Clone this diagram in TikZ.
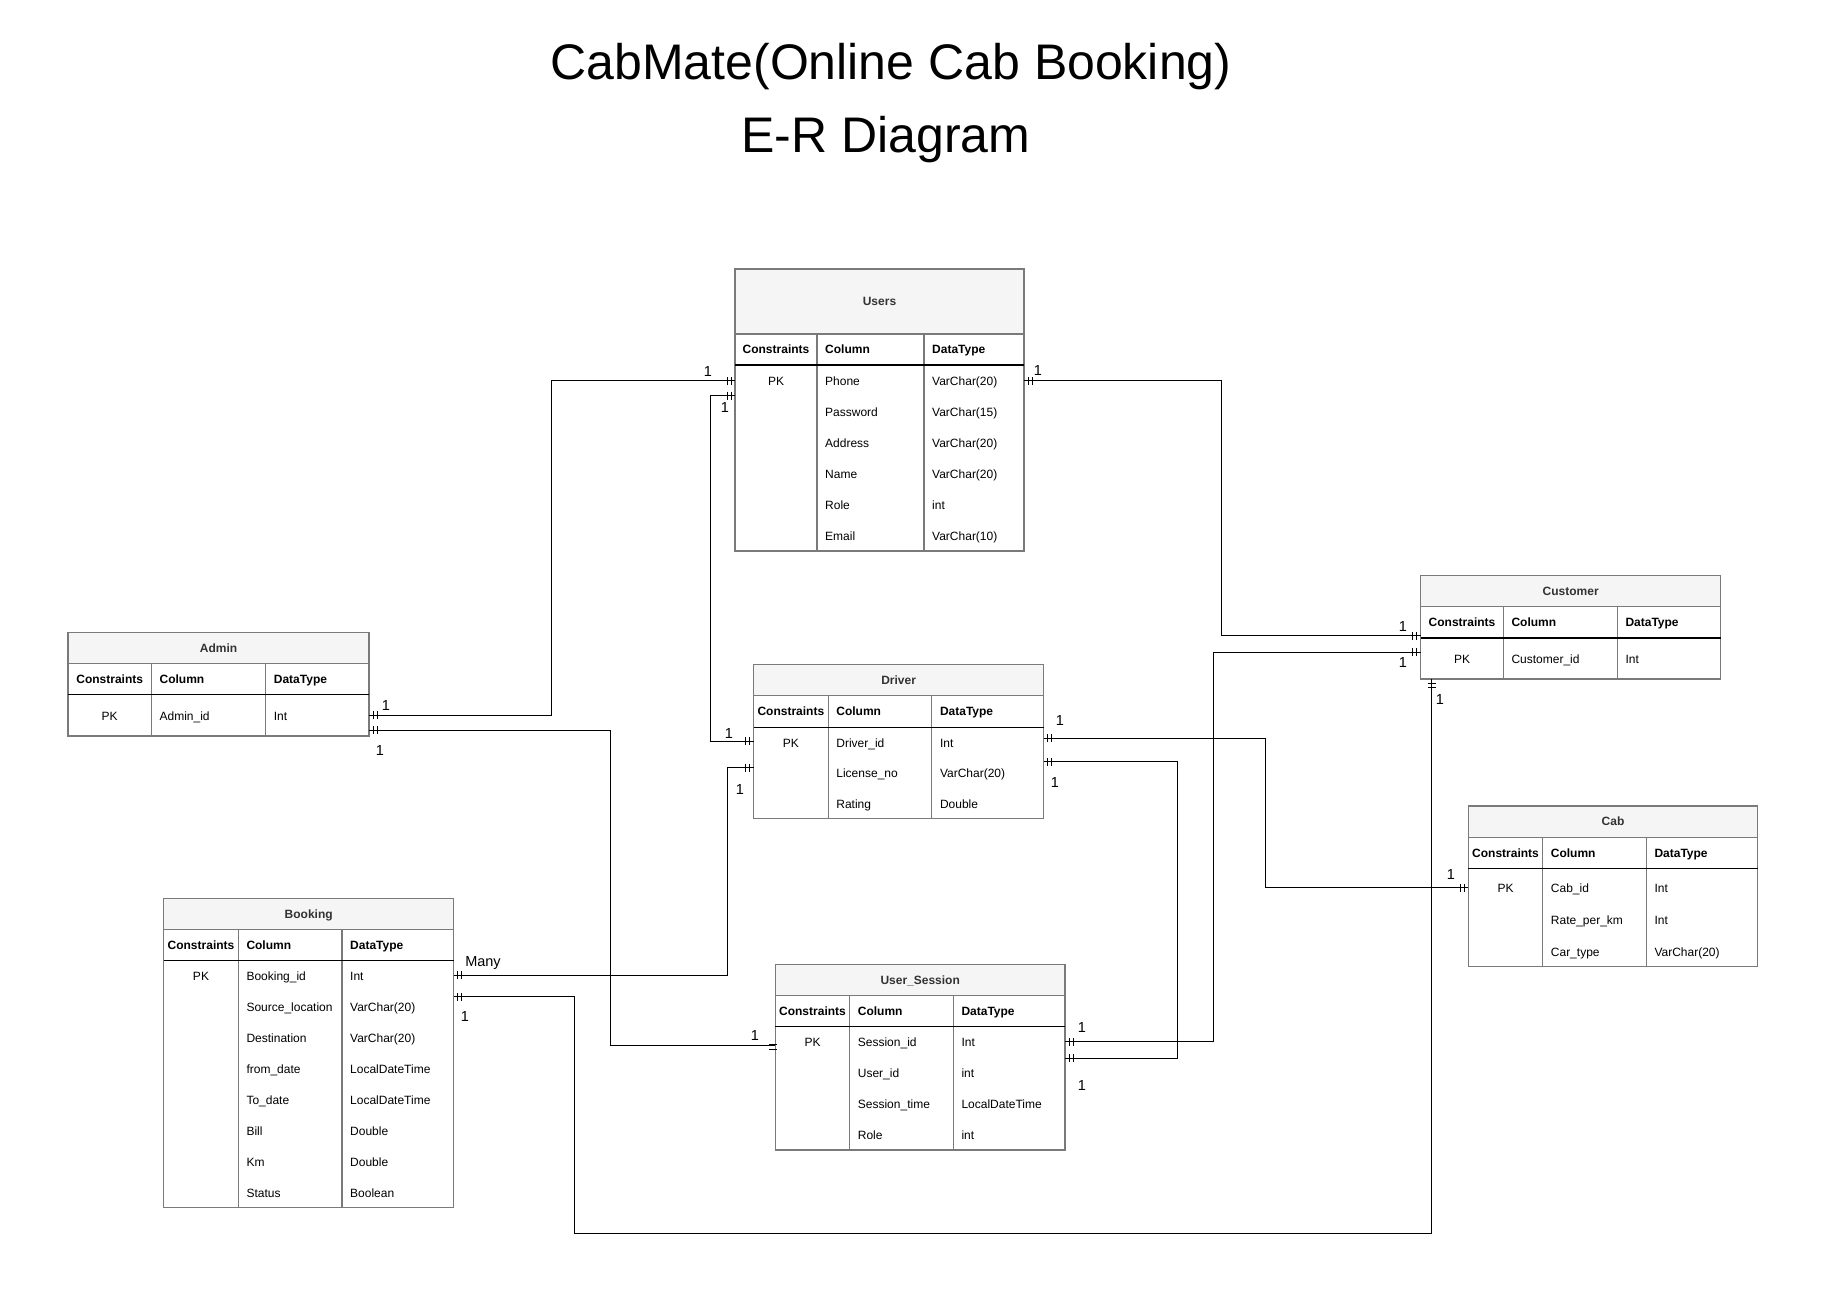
\documentclass[tikz,border=0pt]{standalone}
\usepackage{fontspec}
\setmainfont{Liberation Sans}
\usepackage{tikz}
\usetikzlibrary{calc, decorations.markings}

\definecolor{tblgray}{HTML}{7A7A7A}
\definecolor{titlefill}{HTML}{F5F5F5}
\definecolor{titletext}{HTML}{333333}

\begin{document}
\begin{tikzpicture}[ x=1pt, y=-1pt, tblframe/.style={draw=tblgray, line
      width=1.2pt, inner sep=0pt, outer sep=0pt, anchor=north west},
      tblline/.style={draw=tblgray, line width=1.2pt}, headline/.style={draw=black,
      line width=1.3pt}, tbltitle/.style={font=\bfseries\fontsize{12}{14}\selectfont,
      text=titletext, inner sep=0pt, text height=8.6pt, text depth=0pt},
      hdr/.style={font=\bfseries\fontsize{12}{14}\selectfont, inner sep=0pt, text
      height=8.6pt, text depth=0pt}, cell/.style={font=\fontsize{12}{14}\selectfont,
      inner sep=0pt, text height=8.6pt, text depth=0pt},
      card/.style={font=\fontsize{14.5}{16}\selectfont, inner sep=0pt, text
      height=10.4pt, text depth=0pt}, rel/.style={draw=black, line width=1pt},
      onestart/.style={postaction={decorate, decoration={markings, mark=at position
      4pt with {\draw[rel] (0pt,-4pt) -- (0pt,4pt);}, mark=at position 8pt with
      {\draw[rel] (0pt,-4pt) -- (0pt,4pt);}}}}, oneend/.style={postaction={decorate,
      decoration={markings, mark=at position -4pt with {\draw[rel] (0pt,-4pt) --
      (0pt,4pt);}, mark=at position -8pt with {\draw[rel] (0pt,-4pt) --
      (0pt,4pt);}}}} ]
    \useasboundingbox (0,0) rectangle (1824,1302);

    % Title
    \node[font=\fontsize{50}{60}\selectfont, inner sep=0pt, text height=35.8pt, text
    depth=0pt] (title1) at (891,62) {CabMate(Online Cab Booking)};
    \node[font=\fontsize{50}{60}\selectfont, inner sep=0pt, text height=35.8pt, text
    depth=0pt] (title2) at (886,134.5) {E-R Diagram};

    % Users table
    \fill[titlefill] (735,269) rectangle (1024,334);
    \node[tblframe, minimum width=289pt, minimum height=282pt] (users) at (735,269) {};
    \draw[tblline] (735,334) -- (1024,334) (817,334) -- (817,551) (924,334) -- (924,551);
    \draw[headline] (735,365) -- (1024,365);
    \node[tbltitle] (users-t) at (879.5,301.5) {Users};
    \node[hdr] (users-h1) at (776,349.5) {Constraints}; \node[hdr, anchor=west]
    (users-h2) at (825,349.5) {Column}; \node[hdr, anchor=west] (users-h3) at
    (932,349.5) {DataType}; \node[cell] (users-pk) at (776,380.7) {PK};
    \foreach \c/\t [count=\i from 0] in {Phone/VarChar(20), Password/VarChar(15),
      Address/VarChar(20), Name/VarChar(20), Role/int, Email/VarChar(10)} {
      \node[cell, anchor=west] (users-c\i) at (825,380.7+31*\i) {\c};
      \node[cell, anchor=west] (users-d\i) at (932,380.7+31*\i) {\t}; }

    % Admin table
    \fill[titlefill] (68,632.7) rectangle (369,663.3);
    \node[tblframe, minimum width=301pt, minimum height=103.3pt] (admin) at (68,632.7) {};
    \draw[tblline] (68,663.3) -- (369,663.3) (151.4,663.3) -- (151.4,736) (265.7,663.3)
    -- (265.7,736); \draw[headline] (68,694.7) -- (369,694.7);
    \node[tbltitle] (admin-t) at (218.5,648) {Admin};
    \node[hdr] (admin-h1) at (109.7,679) {Constraints}; \node[hdr, anchor=west]
    (admin-h2) at (159.4,679) {Column}; \node[hdr, anchor=west] (admin-h3) at
    (273.7,679) {DataType};
    \node[cell] (admin-pk) at (109.7,716) {PK}; \node[cell, anchor=west] (admin-c0) at
    (159.4,716) {Admin\_id}; \node[cell, anchor=west] (admin-d0) at (273.7,716) {Int};

    % Driver table
    \fill[titlefill] (753.6,664.3) rectangle (1043.6,695.7);
    \node[tblframe, minimum width=290pt, minimum height=154pt] (driver) at (753.6,664.3) {};
    \draw[tblline] (753.6,695.7) -- (1043.6,695.7) (828.2,695.7) -- (828.2,818.3)
    (931.8,695.7) -- (931.8,818.3); \draw[headline] (753.6,727.3) -- (1043.6,727.3);
    \node[tbltitle] (driver-t) at (898.6,680) {Driver};
    \node[hdr] (driver-h1) at (790.9,711.5) {Constraints}; \node[hdr, anchor=west]
    (driver-h2) at (836.2,711.5) {Column}; \node[hdr, anchor=west] (driver-h3) at
    (939.8,711.5) {DataType}; \node[cell] (driver-pk) at (790.9,742.7) {PK};
    \foreach \c/\t [count=\i from 0] in {Driver\_id/Int, License\_no/VarChar(20),
      Rating/Double} {
      \node[cell, anchor=west] (driver-c\i) at (836.2,742.7+30.65*\i) {\c};
      \node[cell, anchor=west] (driver-d\i) at (939.8,742.7+30.65*\i) {\t}; }

    % Customer table
    \fill[titlefill] (1420.7,575.7) rectangle (1720.7,606.7);
    \node[tblframe, minimum width=300pt, minimum height=103.3pt] (customer) at
    (1420.7,575.7) {};
    \draw[tblline] (1420.7,606.7) -- (1720.7,606.7) (1503.3,606.7) -- (1503.3,679)
    (1617.3,606.7) -- (1617.3,679); \draw[headline] (1420.7,638) -- (1720.7,638);
    \node[tbltitle] (customer-t) at (1570.7,591.2) {Customer};
    \node[hdr] (customer-h1) at (1462,622.4) {Constraints}; \node[hdr, anchor=west]
    (customer-h2) at (1511.3,622.4) {Column}; \node[hdr, anchor=west] (customer-h3) at
    (1625.3,622.4) {DataType};
    \node[cell] (customer-pk) at (1462,659) {PK}; \node[cell, anchor=west]
    (customer-c0) at (1511.3,659) {Customer\_id}; \node[cell, anchor=west]
    (customer-d0) at (1625.3,659) {Int};

    % Cab table
    \fill[titlefill] (1468.3,806) rectangle (1757.7,837.3);
    \node[tblframe, minimum width=289.4pt, minimum height=160.3pt] (cab) at
    (1468.3,806) {};
    \draw[tblline] (1468.3,837.3) -- (1757.7,837.3) (1542.7,837.3) -- (1542.7,966.3)
    (1646.3,837.3) -- (1646.3,966.3); \draw[headline] (1468.3,868.7) -- (1757.7,868.7);
    \node[tbltitle] (cab-t) at (1613,821.6) {Cab};
    \node[hdr] (cab-h1) at (1505.5,853) {Constraints}; \node[hdr, anchor=west] (cab-h2)
    at (1550.7,853) {Column}; \node[hdr, anchor=west] (cab-h3) at (1654.3,853)
    {DataType}; \node[cell] (cab-pk) at (1505.5,887.7) {PK};
    \foreach \c/\t [count=\i from 0] in {Cab\_id/Int, Rate\_per\_km/Int,
      Car\_type/VarChar(20)} {
      \node[cell, anchor=west] (cab-c\i) at (1550.7,887.7+32.15*\i) {\c};
      \node[cell, anchor=west] (cab-d\i) at (1654.3,887.7+32.15*\i) {\t}; }

    % Booking table
    \fill[titlefill] (163.7,898.7) rectangle (453.7,929.3);
    \node[tblframe, minimum width=290pt, minimum height=308.6pt] (booking) at
    (163.7,898.7) {};
    \draw[tblline] (163.7,929.3) -- (453.7,929.3) (238.3,929.3) -- (238.3,1207.3)
    (342,929.3) -- (342,1207.3); \draw[headline] (163.7,960.7) -- (453.7,960.7);
    \node[tbltitle] (booking-t) at (308.7,914) {Booking};
    \node[hdr] (booking-h1) at (201,945) {Constraints}; \node[hdr, anchor=west]
    (booking-h2) at (246.3,945) {Column}; \node[hdr, anchor=west] (booking-h3) at
    (350,945) {DataType}; \node[cell] (booking-pk) at (201,975.7) {PK};
    \foreach \c/\t [count=\i from 0] in {Booking\_id/Int,
      Source\_location/VarChar(20), Destination/VarChar(20),
      from\_date/LocalDateTime, To\_date/LocalDateTime, Bill/Double, Km/Double,
      Status/Boolean} {
      \node[cell, anchor=west] (booking-c\i) at (246.3,975.7+31*\i) {\c};
      \node[cell, anchor=west] (booking-d\i) at (350,975.7+31*\i) {\t}; }

    % User_Session table
    \fill[titlefill] (775.3,964.3) rectangle (1065,995.3);
    \node[tblframe, minimum width=289.7pt, minimum height=185.7pt] (session) at
    (775.3,964.3) {};
    \draw[tblline] (775.3,995.3) -- (1065,995.3) (849.7,995.3) -- (849.7,1150)
    (953.3,995.3) -- (953.3,1150); \draw[headline] (775.3,1026.7) -- (1065,1026.7);
    \node[tbltitle] (session-t) at (920.2,979.8) {User\_Session};
    \node[hdr] (session-h1) at (812.5,1011) {Constraints}; \node[hdr, anchor=west]
    (session-h2) at (857.7,1011) {Column}; \node[hdr, anchor=west] (session-h3) at
    (961.3,1011) {DataType}; \node[cell] (session-pk) at (812.5,1041.7) {PK};
    \foreach \c/\t [count=\i from 0] in {Session\_id/Int, User\_id/int,
      Session\_time/LocalDateTime, Role/int} {
      \node[cell, anchor=west] (session-c\i) at (857.7,1041.7+31*\i) {\c};
      \node[cell, anchor=west] (session-d\i) at (961.3,1041.7+31*\i) {\t}; }

    % Connector ends
    \coordinate (adm-r1) at (admin.east |- 0,715.3); \coordinate (adm-r2) at
    (admin.east |- 0,730); \coordinate (usr-l1) at (users.west |- 0,380.5);
    \coordinate (usr-l2) at (users.west |- 0,395.5); \coordinate (usr-r1) at
    (users.east |- 0,380.5); \coordinate (drv-l1) at (driver.west |- 0,741);
    \coordinate (drv-l2) at (driver.west |- 0,767.8); \coordinate (drv-r1) at
    (driver.east |- 0,738); \coordinate (drv-r2) at (driver.east |- 0,761.5);
    \coordinate (cus-l1) at (customer.west |- 0,635.7); \coordinate (cus-l2) at
    (customer.west |- 0,652.3); \coordinate (cus-b1) at (customer.south -| 1431.7,0);
    \coordinate (cab-l1) at (cab.west |- 0,887.5); \coordinate (bkg-r1) at
    (booking.east |- 0,975); \coordinate (bkg-r2) at (booking.east |- 0,996.7);
    \coordinate (ses-l1) at (session.west |- 0,1045); \coordinate (ses-r1) at
    (session.east |- 0,1041.7); \coordinate (ses-r2) at (session.east |- 0,1058.3);

    % Relations
    \draw[rel, onestart, oneend] (adm-r1) -| (551.4,380.5) -- (usr-l1);
    \draw[rel, onestart] (adm-r2) -| (610.7,1045) -- (ses-l1);
    \draw[rel] ($(ses-l1)+(-6,-1)$) -- ++(8,0) ($(ses-l1)+(-6,4)$) -- ++(8,0);
    \draw[rel, onestart, oneend] (usr-l2) -| (710.8,741) -- (drv-l1);
    \draw[rel, onestart, oneend] (bkg-r1) -| (727,767.8) -- (drv-l2);
    \draw[rel, onestart, oneend] (usr-r1) -| (1221.5,635.7) -- (cus-l1);
    \draw[rel, onestart, oneend] (ses-r1) -| (1213,652.3) -- (cus-l2);
    \draw[rel, onestart, oneend] (drv-r1) -| (1265,887.5) -- (cab-l1);
    \draw[rel, onestart, oneend] (drv-r2) -| (1177.3,1058.3) -- (ses-r2);
    \draw[rel, onestart, oneend] (bkg-r2) -| (574.5,1233) -| (cus-b1);

    % Cardinality labels
    \node[card] (k1) at (386,705) {1}; \node[card] (k2) at (708,371) {1};
    \node[card] (k3) at (380,750) {1}; \node[card] (k4) at (755,1035) {1};
    \node[card] (k5) at (725,407) {1}; \node[card] (k6) at (729,733) {1};
    \node[card] (k7) at (483,961) {Many}; \node[card] (k8) at (740,789) {1};
    \node[card] (k9) at (1038,370) {1}; \node[card] (k10) at (1403,626) {1};
    \node[card] (k11) at (1082,1027) {1}; \node[card] (k12) at (1403,662) {1};
    \node[card] (k13) at (1060,720) {1}; \node[card] (k14) at (1451,874) {1};
    \node[card] (k15) at (1055,782) {1}; \node[card] (k16) at (1082,1085) {1};
    \node[card] (k17) at (465,1016) {1}; \node[card] (k18) at (1440,699) {1};

    \end{tikzpicture}
\end{document}
